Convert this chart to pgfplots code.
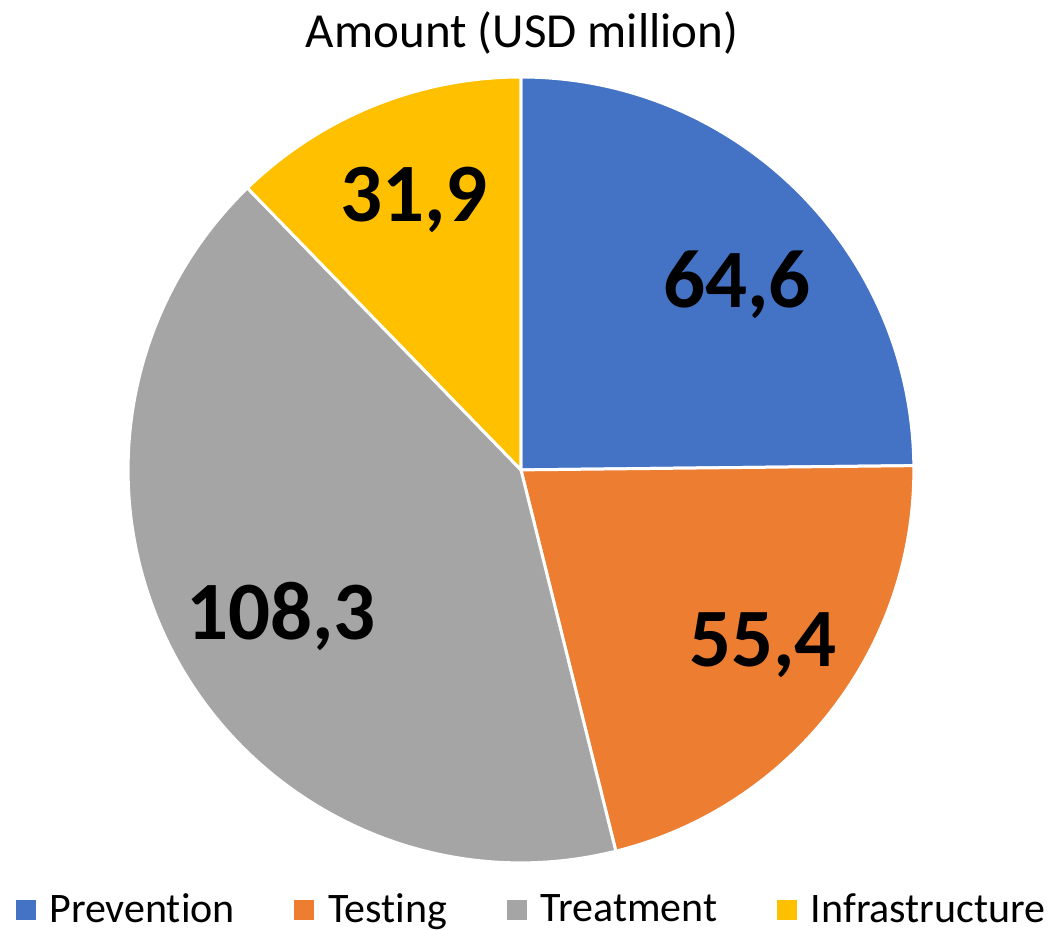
\documentclass[border=0pt]{standalone}
\usepackage{fontspec}
\setmainfont{Carlito}[Ligatures={NoCommon}]
\usepackage{pgfplots}
\usepackage{pgfplotstable}
\pgfplotsset{compat=1.18}

\definecolor{cPrev}{HTML}{4472C4}
\definecolor{cTest}{HTML}{ED7D31}
\definecolor{cTreat}{HTML}{A5A5A5}
\definecolor{cInfra}{HTML}{FFC000}

% slices, clockwise from 12 o'clock; lx/ly = label position in radius units
\pgfplotstableread[col sep=space]{
name           value  txt    lx      ly      col
Prevention     64.6   64,6   0.550   0.471   cPrev
Testing        55.4   55,4   0.616  -0.445   cTest
Treatment      108.3  108,3 -0.611  -0.374   cTreat
Infrastructure 31.9   31,9  -0.272   0.687   cInfra
}\piedata

\begin{document}
\begin{tikzpicture}
\begin{axis}[
    x=196.5pt, y=196.5pt,
    xmin=-1.326, xmax=1.349, ymin=-1.170, ymax=1.196,
    hide axis, clip=false,
    legend columns=4,
    legend style={at={(axis cs:-1.2875,-1.119)}, anchor=west, draw=none, fill=none,
        inner sep=0pt, font=\fontsize{21}{24}\selectfont,
        nodes={inner sep=0pt},
        /tikz/every odd column/.style={column sep=7pt},
        /tikz/every even column/.style={column sep=29.8pt}},
    legend image code/.code={\fill[#1] (0pt,-4.75pt) rectangle (9.5pt,4.75pt);},
]
\pgfplotstablegetrowsof{\piedata}
\pgfmathtruncatemacro\nrows{\pgfplotsretval-1}
\pgfmathsetmacro\total{64.6+55.4+108.3+31.9}
\def\startang{90}
\pgfplotsforeachungrouped \i in {0,...,\nrows}{
    \pgfplotstablegetelem{\i}{value}\of\piedata \let\v\pgfplotsretval
    \pgfplotstablegetelem{\i}{col}\of\piedata \let\c\pgfplotsretval
    \pgfplotstablegetelem{\i}{name}\of\piedata \let\n\pgfplotsretval
    \pgfmathsetmacro\endang{\startang-\v/\total*360}
    \edef\temp{\noexpand\fill[\c, draw=white, line width=1.5pt, line join=round]
        (axis cs:0,0) -- (axis cs:{cos(\startang)},{sin(\startang)})
        arc[start angle=\startang, end angle=\endang, radius=196.5pt] -- cycle;
        \noexpand\addlegendimage{\c}\noexpand\addlegendentry{\n}}
    \temp
    \let\startang\endang
}
\pgfplotsforeachungrouped \i in {0,...,\nrows}{
    \pgfplotstablegetelem{\i}{txt}\of\piedata \let\t\pgfplotsretval
    \pgfplotstablegetelem{\i}{lx}\of\piedata \let\lx\pgfplotsretval
    \pgfplotstablegetelem{\i}{ly}\of\piedata \let\ly\pgfplotsretval
    \edef\temp{\noexpand\node[font=\noexpand\bfseries\noexpand\fontsize{41.5}{45}\noexpand\selectfont, inner sep=0pt]
        at (axis cs:\lx,\ly) {\t};}
    \temp
}
\node[anchor=base, inner sep=0pt, font=\fontsize{24.5}{28}\selectfont]
    at (axis cs:0.003,1.074) {Amount (USD million)};
\end{axis}
\pgfresetboundingbox
\useasboundingbox (current axis.south west) rectangle (current axis.north east);
\end{tikzpicture}
\end{document}
